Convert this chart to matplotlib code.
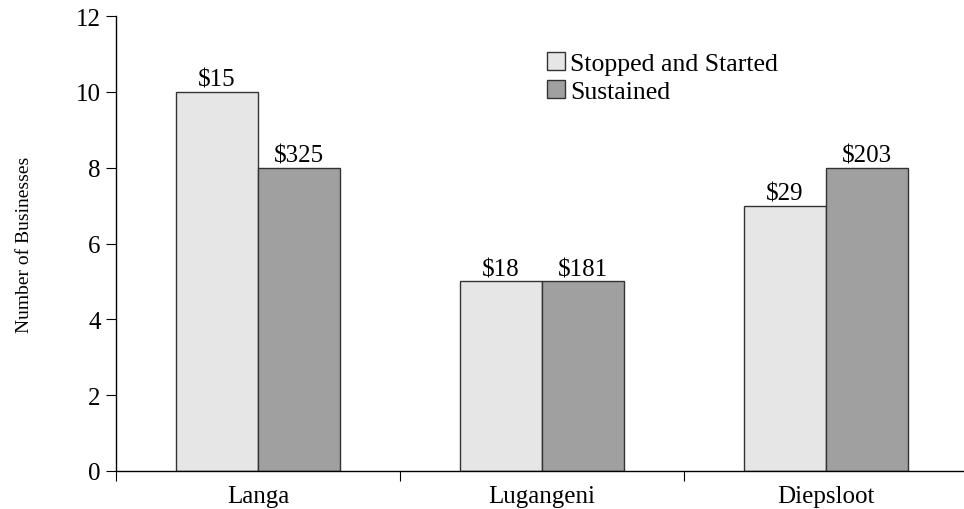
"""Number of businesses by township, stopped-and-started vs sustained."""

import matplotlib.pyplot as plt
import numpy as np

TOWNSHIPS = ["Langa", "Lugangeni", "Diepsloot"]
SERIES_NAMES = ["Stopped and Started", "Sustained"]
STOPPED_COUNTS = [10, 5, 7]
SUSTAINED_COUNTS = [8, 5, 8]
STOPPED_LABELS = ["$15", "$18", "$29"]
SUSTAINED_LABELS = ["$325", "$181", "$203"]

plt.rcParams["font.family"] = ["Liberation Serif", "DejaVu Serif"]
plt.rcParams["font.size"] = 18

fig = plt.figure(figsize=(9.64, 5.10), dpi=100)
ax = fig.add_axes([116 / 964, 38 / 510, 852 / 964, 455 / 510])

x = np.arange(len(TOWNSHIPS))
width = 0.288
bars1 = ax.bar(x - width / 2, STOPPED_COUNTS, width, color="#e6e6e6",
               edgecolor="#333333", linewidth=1, label=SERIES_NAMES[0])
bars2 = ax.bar(x + width / 2, SUSTAINED_COUNTS, width, color="#a0a0a0",
               edgecolor="#333333", linewidth=1, label=SERIES_NAMES[1])

for bars, labels in ((bars1, STOPPED_LABELS), (bars2, SUSTAINED_LABELS)):
    for bar, text in zip(bars, labels):
        ax.annotate(text.replace("$", r"\$"), (bar.get_x() + bar.get_width() / 2, bar.get_height()),
                    xytext=(0, 1), textcoords="offset points",
                    ha="center", va="bottom", fontsize=18)

ax.set_xlim(-0.5, 2.5)
ax.set_ylim(0, 12)
ax.set_yticks(range(0, 13, 2))
ax.set_xticks([-0.5, 0.5, 1.5, 2.5])
ax.set_xticklabels([])
ax.set_xticks(x, minor=True)
ax.set_xticklabels(TOWNSHIPS, minor=True)
ax.tick_params(axis="x", which="minor", length=0, pad=10)
ax.tick_params(axis="x", which="major", length=7, direction="out")
ax.tick_params(axis="y", length=7, direction="out", pad=4)

for side in ("top", "right"):
    ax.spines[side].set_visible(False)
ax.spines["left"].set_linewidth(1)
ax.spines["bottom"].set_linewidth(1)

ax.set_ylabel("Number of Businesses", fontsize=14, labelpad=31)

ax.legend(loc="upper left", bbox_to_anchor=(0.494, 0.943), frameon=False,
          handlelength=0.7, handleheight=0.7, handletextpad=0.2,
          labelspacing=0.2, borderaxespad=0, fontsize=18.5)

fig.savefig("out.png", dpi=100)
